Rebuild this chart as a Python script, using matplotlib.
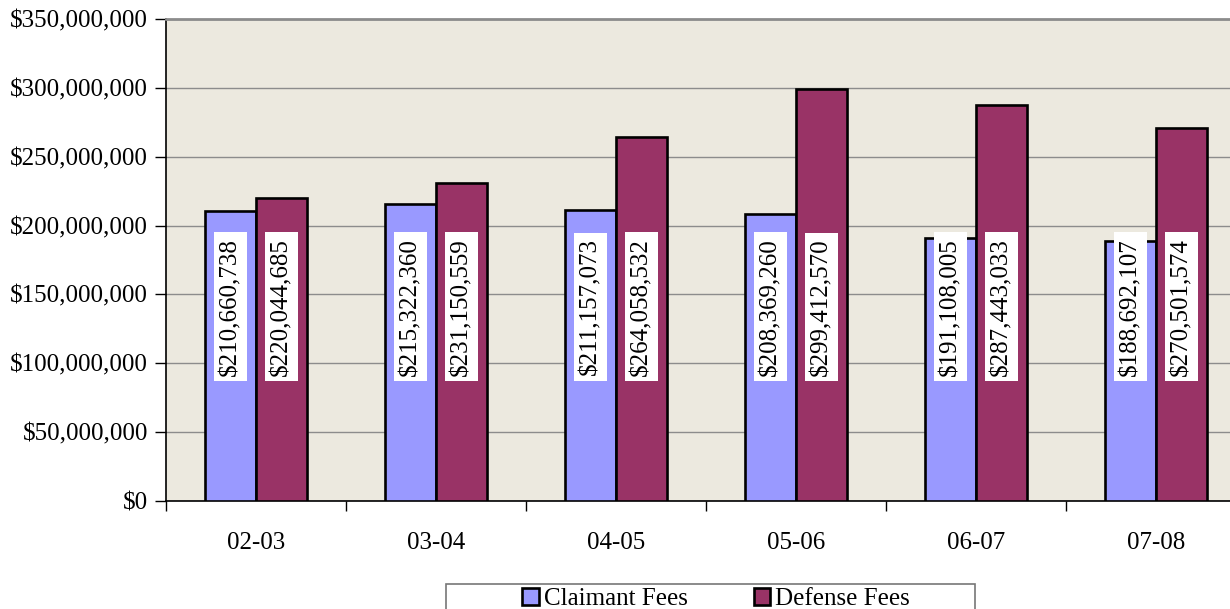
import numpy as np
import matplotlib.pyplot as plt
from matplotlib.patches import Rectangle
from matplotlib.ticker import FuncFormatter, MultipleLocator

# chart data
years = ["02-03", "03-04", "04-05", "05-06", "06-07", "07-08"]
claimant_fees = [210660738, 215322360, 211157073, 208369260, 191108005, 188692107]
defense_fees = [220044685, 231150559, 264058532, 299412570, 287443033, 270501574]

plt.rcParams['font.family'] = ['Liberation Serif', 'DejaVu Serif']
FS = 18

fig = plt.figure(figsize=(12.3, 6.09), dpi=100)
ax = fig.add_axes([166 / 1230, 108 / 609, 1080 / 1230, 482 / 609])
ax.set_facecolor('#ECE9DF')

x = np.arange(len(years))
w = 0.2833
b1 = ax.bar(x - w / 2, claimant_fees, w, color='#9999FF', edgecolor='black',
            linewidth=1.9, label='Claimant Fees', zorder=3)
b2 = ax.bar(x + w / 2, defense_fees, w, color='#993366', edgecolor='black',
            linewidth=1.9, label='Defense Fees', zorder=3)

# value labels, rotated, in white boxes
for bars, vals in ((b1, claimant_fees), (b2, defense_fees)):
    for rect, v in zip(bars, vals):
        ax.text(rect.get_x() + rect.get_width() / 2, 141e6, f"${v:,}",
                rotation=90, ha='center', va='center', fontsize=FS, zorder=4,
                bbox=dict(facecolor='white', edgecolor='none', pad=4))

ax.set_xlim(-0.5, len(years) - 0.5)
ax.set_ylim(0, 350e6)
ax.yaxis.set_major_locator(MultipleLocator(50e6))
ax.yaxis.set_major_formatter(FuncFormatter(lambda v, p: f"${v:,.0f}"))
ax.grid(axis='y', color='#8C8C8C', linewidth=1.0, zorder=1)

ax.set_xticks(x)
ax.set_xticklabels(years)
ax.set_xticks(np.arange(-0.5, len(years), 1.0), minor=True)
ax.tick_params(axis='x', which='major', length=0, pad=22, labelsize=FS)
ax.tick_params(axis='x', which='minor', length=7, width=1, direction='out')
ax.tick_params(axis='y', length=8, width=1, direction='out', labelsize=FS, pad=5)

for s in ('left', 'bottom'):
    ax.spines[s].set_color('black')
    ax.spines[s].set_linewidth(1.2)
ax.spines['top'].set_color('#8C8C8C')
ax.spines['top'].set_linewidth(2)
ax.spines['right'].set_visible(False)

# legend box (Excel style, wider than its entries)
fig.patches.append(Rectangle((446 / 1230, -0.05), 529 / 1230, 0.05 + 25 / 609,
                             transform=fig.transFigure, facecolor='white',
                             edgecolor='#777777', linewidth=1.2))
fig.legend(handles=[b1, b2], loc='center', bbox_to_anchor=(716 / 1230, 1 - 599 / 609),
           ncol=2, fontsize=FS, frameon=False,
           handlelength=0.65, handleheight=0.65, handletextpad=0.2, columnspacing=2.65,
           borderpad=0, borderaxespad=0)

fig.savefig("out.png", dpi=100)
